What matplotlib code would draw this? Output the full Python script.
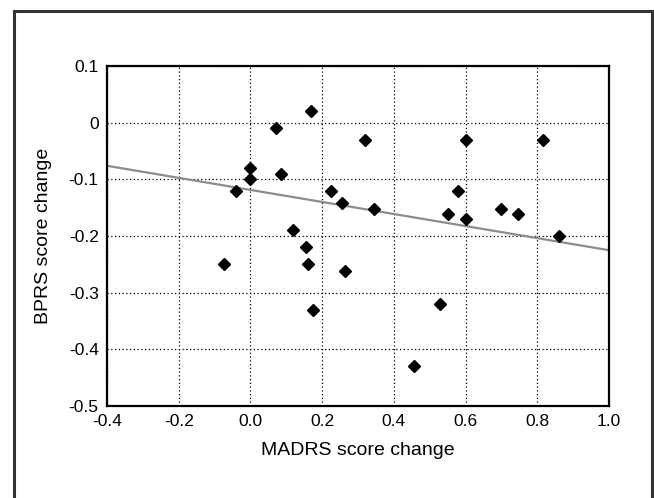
import matplotlib
matplotlib.use('Agg')
import matplotlib.pyplot as plt
from matplotlib.patches import Rectangle
import numpy as np

plt.rcParams['font.family'] = ['Liberation Sans', 'DejaVu Sans']

# MADRS change vs BPRS change, one point per patient
madrs = [-0.075, -0.04, 0.0, 0.0, 0.07, 0.085, 0.12, 0.155, 0.16, 0.17,
         0.175, 0.225, 0.255, 0.265, 0.32, 0.345, 0.455, 0.53, 0.55, 0.58,
         0.60, 0.60, 0.70, 0.745, 0.815, 0.86]
bprs = [-0.25, -0.12, -0.08, -0.10, -0.01, -0.09, -0.19, -0.22, -0.25, 0.02,
        -0.33, -0.12, -0.142, -0.262, -0.03, -0.153, -0.43, -0.32, -0.162, -0.12,
        -0.03, -0.17, -0.152, -0.162, -0.03, -0.20]

# fitted line
fit_slope = -0.1064
fit_intercept = -0.1186

x_ticks = [-0.4, -0.2, 0.0, 0.2, 0.4, 0.6, 0.8, 1.0]
x_tick_labels = ['-0.4', '-0.2', '0.0', '0.2', '0.4', '0.6', '0.8', '1.0']
y_ticks = [0.1, 0, -0.1, -0.2, -0.3, -0.4, -0.5]
y_tick_labels = ['0.1', '0', '-0.1', '-0.2', '-0.3', '-0.4', '-0.5']

fig = plt.figure(figsize=(6.54, 4.98), dpi=100)
ax = fig.add_axes([0.1636, 0.1847, 0.7676, 0.6827])

# outer frame round the whole figure (open at the bottom edge)
fig.patches.append(Rectangle((13.5 / 654, -0.1), (652 - 13.5) / 654, 1.1 - 11 / 498,
                             transform=fig.transFigure, fill=False,
                             edgecolor='#333333', linewidth=2.2))

xs = np.array([-0.4, 1.0])
ax.plot(xs, fit_intercept + fit_slope * xs, color='#8c8c8c', linewidth=1.6, zorder=2)
ax.plot(madrs, bprs, linestyle='None', marker='D', markersize=6.2,
        color='black', zorder=3)

ax.set_xlim(-0.4, 1.0)
ax.set_ylim(-0.5, 0.1)
ax.set_xticks(x_ticks)
ax.set_xticklabels(x_tick_labels)
ax.set_yticks(y_ticks)
ax.set_yticklabels(y_tick_labels)
ax.tick_params(length=0, labelsize=12.5, pad=6)
ax.grid(True, linestyle=(0, (1, 2)), color='black', linewidth=0.9)
ax.set_axisbelow(True)
for s in ax.spines.values():
    s.set_linewidth(1.6)
    s.set_color('black')

ax.set_xlabel('MADRS score change', fontsize=14, labelpad=9)
ax.set_ylabel('BPRS score change', fontsize=14, labelpad=12)

fig.savefig('out.png', dpi=100)
